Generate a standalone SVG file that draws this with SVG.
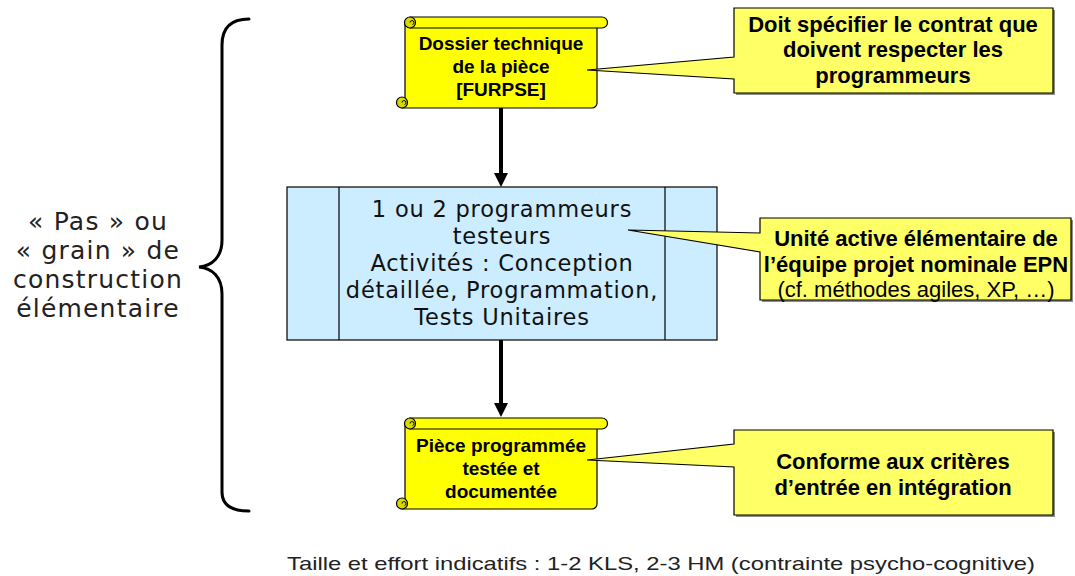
<svg xmlns="http://www.w3.org/2000/svg" xmlns:xlink="http://www.w3.org/1999/xlink" width="1075" height="576" viewBox="0 0 1075 576">
  <style>
    .scroll-body { fill: #FFFF00; stroke: #000; stroke-width: 1.2; stroke-linejoin: round; }
    .scroll-curl { fill: #D9D900; stroke: #000; stroke-width: 1.2; }
    .scroll-text { font-family: "Liberation Sans", Arial, sans-serif; font-weight: bold; font-size: 19px; fill: #000; text-anchor: middle; }
    .callout { fill: #FFFF66; stroke: #000; stroke-width: 1.2; stroke-linejoin: miter; }
    .callout-shadow { fill: #8C8C8C; }
    .callout-text { font-family: "Liberation Sans", Arial, sans-serif; font-size: 22px; fill: #000; text-anchor: middle; }
    .bold { font-weight: bold; }
    .step-box { fill: #CCECFF; stroke: #000; stroke-width: 1.2; }
    .step-text { font-family: "DejaVu Sans", Verdana, sans-serif; font-size: 22.5px; letter-spacing: 0.8px; fill: #111; text-anchor: middle; }
    .side-text { font-family: "DejaVu Sans", Verdana, sans-serif; font-size: 25px; letter-spacing: 1.2px; fill: #222; text-anchor: middle; }
    .flow { stroke: #000; stroke-width: 4; fill: none; }
    .brace { stroke: #000; stroke-width: 3; fill: none; stroke-linecap: round; }
    .footer { font-family: "Liberation Sans", Arial, sans-serif; font-size: 19px; fill: #222; }
  </style>
  <defs>
    <marker id="arrowhead" markerUnits="userSpaceOnUse" markerWidth="14" markerHeight="14" refX="2" refY="7" orient="auto">
      <path d="M0,0 L14,7 L0,14 Z" fill="#000"/>
    </marker>
    <!-- document scroll: roll on top, curls at top-left and bottom-left -->
    <g id="scroll-shape">
      <path class="scroll-body" d="M405,22 H597 V103 A5,5 0 0 1 592,108 H402 L405,104 Z"/>
      <circle class="scroll-curl" cx="402" cy="102.5" r="5.5"/>
      <path d="M402,102.5 a2,2 0 1 1 2.5,2" fill="none" stroke="#000" stroke-width="1"/>
      <path class="scroll-body" d="M410,17 H602 A5.5,5.5 0 0 1 602,28 H410 Z"/>
      <circle class="scroll-curl" cx="410" cy="22.5" r="5.5"/>
      <path d="M410,22.5 a2,2 0 1 1 2.5,2" fill="none" stroke="#000" stroke-width="1"/>
    </g>
  </defs>

  <rect width="1075" height="576" fill="#FFFFFF"/>

  <!-- grouping brace and its label -->
  <g id="grain-label">
    <path class="brace" d="M249,19 C231,19 222,28 222,45 V240 C222,257 212,266 199,267 C212,268 222,277 222,294 V492 C222,505 231,511 249,511"/>
    <text class="side-text" x="98" y="230">« Pas » ou</text>
    <text class="side-text" x="98" y="259">« grain » de</text>
    <text class="side-text" x="98" y="288">construction</text>
    <text class="side-text" x="98" y="317">élémentaire</text>
  </g>

  <!-- connectors -->
  <g id="connectors">
    <line class="flow" x1="501" y1="108" x2="501" y2="175" marker-end="url(#arrowhead)"/>
    <line class="flow" x1="501" y1="340" x2="501" y2="405" marker-end="url(#arrowhead)"/>
  </g>

  <!-- input document -->
  <g id="dossier-technique">
    <use xlink:href="#scroll-shape"/>
    <text class="scroll-text" x="501" y="50">Dossier technique</text>
    <text class="scroll-text" x="501" y="73">de la pièce</text>
    <text class="scroll-text" x="501" y="96">[FURPSE]</text>
  </g>

  <!-- predefined process step -->
  <g id="programmeurs-testeurs">
    <rect class="step-box" x="287" y="187" width="430" height="153"/>
    <line x1="339" y1="187" x2="339" y2="340" stroke="#000" stroke-width="1.2"/>
    <line x1="665" y1="187" x2="665" y2="340" stroke="#000" stroke-width="1.2"/>
    <text class="step-text" x="502" y="217">1 ou 2 programmeurs</text>
    <text class="step-text" x="502" y="244">testeurs</text>
    <text class="step-text" x="502" y="271">Activités : Conception</text>
    <text class="step-text" x="502" y="298">détaillée, Programmation,</text>
    <text class="step-text" x="502" y="325">Tests Unitaires</text>
  </g>

  <!-- output document -->
  <g id="piece-programmee">
    <use xlink:href="#scroll-shape" y="401"/>
    <text class="scroll-text" x="501" y="452">Pièce programmée</text>
    <text class="scroll-text" x="501" y="475">testée et</text>
    <text class="scroll-text" x="501" y="498">documentée</text>
  </g>

  <!-- callouts -->
  <g id="callout-contrat">
    <rect class="callout-shadow" x="736" y="10" width="319" height="85"/>
    <path class="callout" d="M734,8 H1053 V93 H734 V79 L587,70 L734,57 Z"/>
    <text class="callout-text bold" x="893" y="32">Doit spécifier le contrat que</text>
    <text class="callout-text bold" x="893" y="57">doivent respecter les</text>
    <text class="callout-text bold" x="893" y="83">programmeurs</text>
  </g>

  <g id="callout-epn">
    <rect class="callout-shadow" x="762" y="220" width="311" height="82"/>
    <path class="callout" d="M760,218 H1071 V300 H760 V252 L628,230 L760,233 Z"/>
    <text class="callout-text bold" x="916" y="246">Unité active élémentaire de</text>
    <text class="callout-text bold" x="916" y="272">l’équipe projet nominale EPN</text>
    <text class="callout-text" x="916" y="297">(cf. méthodes agiles, XP, …)</text>
  </g>

  <g id="callout-integration">
    <rect class="callout-shadow" x="736" y="432" width="319" height="85"/>
    <path class="callout" d="M734,430 H1053 V515 H734 V467 L587,460 L734,444 Z"/>
    <text class="callout-text bold" x="893" y="469">Conforme aux critères</text>
    <text class="callout-text bold" x="893" y="495">d’entrée en intégration</text>
  </g>

  <!-- footnote -->
  <text class="footer" x="287" y="570" textLength="748" lengthAdjust="spacingAndGlyphs">Taille et effort indicatifs : 1-2 KLS, 2-3 HM (contrainte psycho-cognitive)</text>
</svg>
